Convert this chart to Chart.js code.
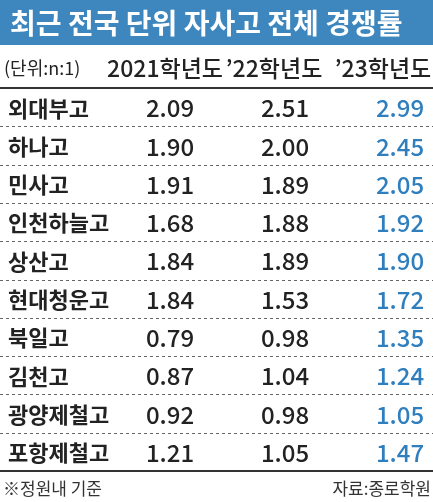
<!DOCTYPE html>
<html><head><meta charset="utf-8">
<script src="https://cdn.jsdelivr.net/npm/chart.js@4"></script>
<style>
html,body{margin:0;padding:0;background:#fff;}
#wrap{width:433px;height:502px;}
</style></head>
<body><div id="wrap"><canvas id="c"></canvas></div>
<script>
// ===== DATA =====
const title = "최근 전국 단위 자사고 전체 경쟁률";
const unitLabel = "(단위:n:1)";
const columns = ["2021학년도", "’22학년도", "’23학년도"];
const schools = ["외대부고","하나고","민사고","인천하늘고","상산고","현대청운고","북일고","김천고","광양제철고","포항제철고"];
const y2021 = [2.09, 1.90, 1.91, 1.68, 1.84, 1.84, 0.79, 0.87, 0.92, 1.21];
const y2022 = [2.51, 2.00, 1.89, 1.88, 1.89, 1.53, 0.98, 1.04, 0.98, 1.05];
const y2023 = [2.99, 2.45, 2.05, 1.92, 1.90, 1.72, 1.35, 1.24, 1.05, 1.47];
const note = "※정원내 기준";
const source = "자료:종로학원";

const series = [y2021, y2022, y2023];
const FONT = '"Noto Sans CJK KR", "Noto Sans", sans-serif';

// ===== TABLE PLUGIN =====
const tablePlugin = {
  id: "table",
  beforeDraw(chart) {
    const ctx = chart.ctx;
    ctx.save();
    ctx.fillStyle = "#fff";
    ctx.fillRect(0, 0, chart.width, chart.height);
    ctx.fillStyle = "#3d86be";
    ctx.fillRect(0, 0, chart.width, 45);
    ctx.restore();
  },
  afterDraw(chart) {
    const ctx = chart.ctx;
    const x = chart.scales.x, y = chart.scales.y;
    const area = chart.chartArea;
    ctx.save();

    // title
    ctx.fillStyle = "#fff";
    ctx.font = "bold 28px " + FONT;
    ctx.textBaseline = "middle";
    ctx.textAlign = "left";
    ctx.fillText(title, 10, 23);

    // header
    ctx.fillStyle = "#222";
    ctx.font = "18px " + FONT;
    ctx.fillText(unitLabel, 4, 68);
    ctx.font = "500 23px " + FONT;
    ctx.textAlign = "center";
    columns.forEach((c, i) => {
      ctx.fillText(c, x.getPixelForValue(i + 1) - 5 - i * 6, 68);
    });

    // lines
    ctx.strokeStyle = "#333";
    ctx.lineWidth = 2;
    ctx.beginPath();
    ctx.moveTo(0, area.top); ctx.lineTo(chart.width, area.top);
    ctx.moveTo(0, area.bottom); ctx.lineTo(chart.width, area.bottom);
    ctx.stroke();
    ctx.lineWidth = 1;
    ctx.strokeStyle = "#666";
    ctx.setLineDash([3, 3]);
    const step = (area.bottom - area.top) / schools.length;
    ctx.beginPath();
    for (let i = 1; i < schools.length; i++) {
      const ly = Math.round(area.top + step * i) + 0.5;
      ctx.moveTo(0, ly); ctx.lineTo(chart.width, ly);
    }
    ctx.stroke();
    ctx.setLineDash([]);

    // rows
    schools.forEach((s, r) => {
      const py = y.getPixelForValue(r) + 1;
      ctx.textAlign = "left";
      ctx.fillStyle = "#222";
      ctx.font = "bold 22px " + FONT;
      ctx.fillText(s, 8, py);
      ctx.font = "500 24px " + FONT;
      ctx.textAlign = "center";
      series.forEach((vals, i) => {
        ctx.fillStyle = i === 2 ? "#2f7fbf" : "#222";
        ctx.fillText(vals[r].toFixed(2), x.getPixelForValue(i + 1), py);
      });
    });

    // footer
    ctx.fillStyle = "#333";
    ctx.font = "17px " + FONT;
    ctx.textAlign = "left";
    ctx.fillText(note, 3, 489);
    ctx.textAlign = "right";
    ctx.fillText(source, 431, 489);
    ctx.restore();
  }
};

new Chart(document.getElementById("c"), {
  type: "bar",
  data: {
    labels: schools,
    datasets: series.map((vals, i) => ({
      data: vals.map((v, r) => ({ x: i + 1, y: schools[r] })),
      backgroundColor: "transparent"
    }))
  },
  options: {
    responsive: true,
    maintainAspectRatio: false,
    animation: false,
    indexAxis: "y",
    layout: { padding: { top: 88, bottom: 31, left: 8, right: 0 } },
    plugins: { legend: { display: false }, tooltip: { enabled: false } },
    scales: {
      x: { type: "linear", min: -0.409, max: 3.287, display: false },
      y: { type: "category", labels: schools, offset: true, display: false }
    }
  },
  plugins: [tablePlugin]
});
</script></body></html>
